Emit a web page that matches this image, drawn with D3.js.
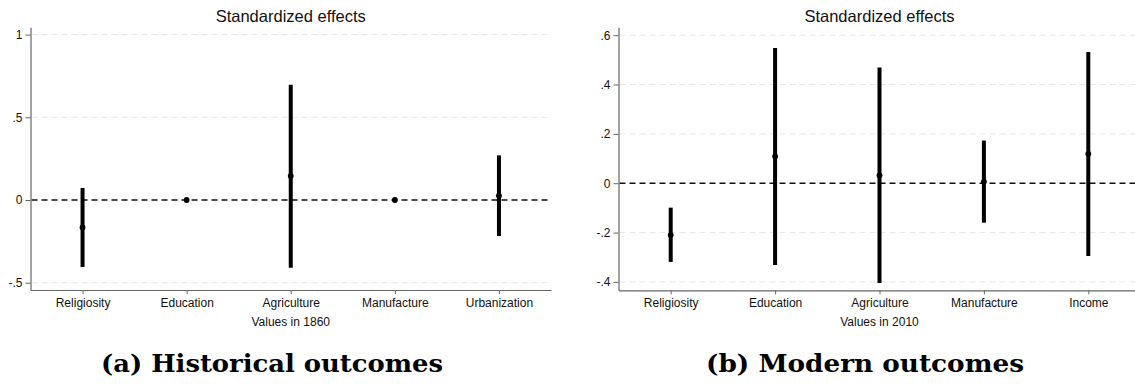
<!DOCTYPE html>
<html>
<head>
<meta charset="utf-8">
<script src="https://cdn.jsdelivr.net/npm/d3@7"></script>
<style>
  html, body { margin: 0; padding: 0; background: #fff; }
  svg { display: block; }
</style>
</head>
<body>
<svg id="chart" width="1135" height="389"></svg>
<script>
// ---- Data ----
const categoriesA = ["Religiosity", "Education", "Agriculture", "Manufacture", "Urbanization"];
const estimateA = [-0.166, 0, 0.145, 0, 0.026];
const lowerA = [-0.405, 0, -0.409, 0, -0.218];
const upperA = [0.073, 0, 0.697, 0, 0.27];
const yTicksA = [-0.5, 0, 0.5, 1];
const yTickLabelsA = ["-.5", "0", ".5", "1"];

const categoriesB = ["Religiosity", "Education", "Agriculture", "Manufacture", "Income"];
const estimateB = [-0.21, 0.109, 0.032, 0.006, 0.119];
const lowerB = [-0.319, -0.331, -0.404, -0.16, -0.295];
const upperB = [-0.099, 0.548, 0.469, 0.173, 0.532];
const yTicksB = [-0.4, -0.2, 0, 0.2, 0.4, 0.6];
const yTickLabelsB = ["-.4", "-.2", "0", ".2", ".4", ".6"];

const titleText = "Standardized effects";
const xTitleA = "Values in 1860";
const xTitleB = "Values in 2010";
const captionA = "(a) Historical outcomes";
const captionB = "(b) Modern outcomes";

const svg = d3.select("#chart");
const sans = "'Liberation Sans', Arial, Helvetica, sans-serif";

function panel(cfg) {
  const g = svg.append("g");
  const x = d3.scaleLinear().domain([0.5, 5.5]).range(cfg.xRange);
  const y = d3.scaleLinear().domain(cfg.yDomain).range(cfg.yRange);
  const plotRight = Math.min(cfg.xRange[1], 1135);

  // grid lines
  g.selectAll("line.grid").data(cfg.yTicks.filter(v => v !== 0)).enter().append("line")
    .attr("class", "grid")
    .attr("x1", cfg.xRange[0] + 1).attr("x2", plotRight)
    .attr("y1", d => y(d)).attr("y2", d => y(d))
    .attr("stroke", "#e6e6e6").attr("stroke-width", 1)
    .attr("stroke-dasharray", "6,4");

  // zero reference line
  g.append("line")
    .attr("x1", cfg.xRange[0] + 1).attr("x2", plotRight)
    .attr("y1", y(0)).attr("y2", y(0))
    .attr("stroke", "#111").attr("stroke-width", 1.4)
    .attr("stroke-dasharray", "6,4");

  // axes
  const yAxis = d3.axisLeft(y).tickValues(cfg.yTicks)
    .tickFormat((d, i) => cfg.yLabels[i]).tickSize(5).tickSizeOuter(0).tickPadding(3);
  const ya = g.append("g").attr("transform", `translate(${cfg.xRange[0]},0)`).call(yAxis);

  const xAxis = d3.axisBottom(x).tickValues([1, 2, 3, 4, 5])
    .tickFormat((d, i) => cfg.categories[i]).tickSize(4).tickSizeOuter(0).tickPadding(4);
  const xa = g.append("g").attr("transform", `translate(0,${cfg.yRange[0]})`).call(xAxis);

  [ya, xa].forEach(a => {
    a.select(".domain").attr("stroke", "#666").attr("stroke-width", 1.2);
    a.selectAll(".tick line").attr("stroke", "#666").attr("stroke-width", 1);
    a.selectAll(".tick text").attr("fill", "#111")
      .style("font-family", sans).style("font-size", "12px");
  });

  // CI bars
  const idx = d3.range(cfg.categories.length);
  g.selectAll("line.ci").data(idx.filter(i => cfg.upper[i] !== cfg.lower[i])).enter().append("line")
    .attr("class", "ci")
    .attr("x1", i => x(i + 1)).attr("x2", i => x(i + 1))
    .attr("y1", i => y(cfg.upper[i])).attr("y2", i => y(cfg.lower[i]))
    .attr("stroke", "#000").attr("stroke-width", 4);

  // point estimates
  g.selectAll("circle.pt").data(idx).enter().append("circle")
    .attr("class", "pt")
    .attr("cx", i => x(i + 1)).attr("cy", i => y(cfg.est[i]))
    .attr("r", 2.9).attr("fill", "#000");

  const cx = (cfg.xRange[0] + cfg.xRange[1]) / 2;
  // title
  g.append("text").attr("x", cx).attr("y", 22)
    .attr("text-anchor", "middle").attr("fill", "#111")
    .style("font-family", sans).style("font-size", "16.5px")
    .text(titleText);
  // x title
  g.append("text").attr("x", cx).attr("y", 326)
    .attr("text-anchor", "middle").attr("fill", "#111")
    .style("font-family", sans).style("font-size", "12px")
    .text(cfg.xTitle);
  // caption
  g.append("text").attr("x", cfg.capX).attr("y", 372)
    .attr("fill", "#000")
    .attr("textLength", cfg.capW).attr("lengthAdjust", "spacingAndGlyphs")
    .style("font-family", "'DejaVu Serif', 'Liberation Serif', serif")
    .style("font-weight", "bold").style("font-size", "24px")
    .text(cfg.caption);
}

panel({
  categories: categoriesA, est: estimateA, lower: lowerA, upper: upperA,
  yTicks: yTicksA, yLabels: yTickLabelsA,
  xRange: [30.5, 551], yDomain: [-0.544, 1.044], yRange: [290, 27.3],
  xTitle: xTitleA, caption: captionA, capX: 101, capW: 342
});

panel({
  categories: categoriesB, est: estimateB, lower: lowerB, upper: upperB,
  yTicks: yTicksB, yLabels: yTickLabelsB,
  xRange: [618.5, 1140.5], yDomain: [-0.434, 0.632], yRange: [290.3, 27.3],
  xTitle: xTitleB, caption: captionB, capX: 706, capW: 318
});
</script>
</body>
</html>
